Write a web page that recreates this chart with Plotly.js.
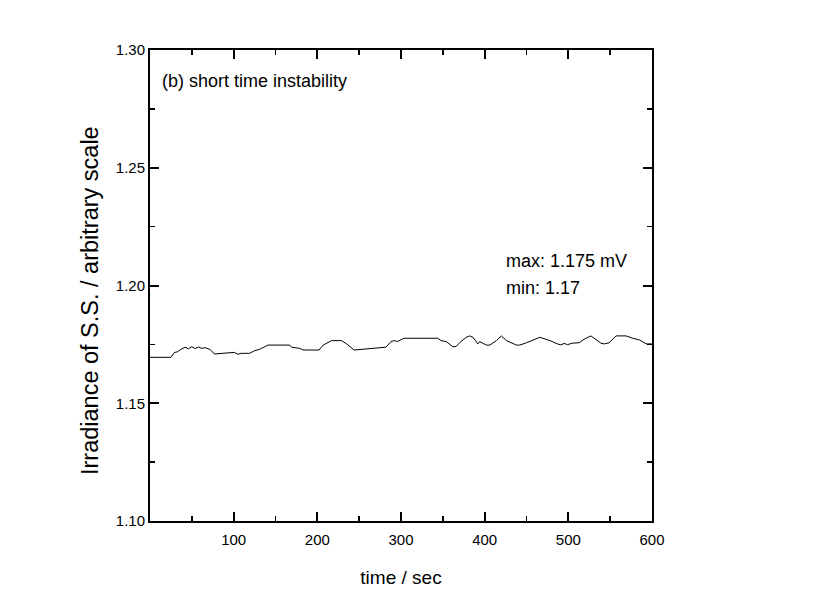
<!DOCTYPE html>
<html>
<head>
<meta charset="utf-8">
<script src="https://cdn.plot.ly/plotly-3.0.1.min.js"></script>
<style>html,body{margin:0;padding:0;background:#fff;}#chart{width:826px;height:592px;}</style>
</head>
<body>
<div id="chart"></div>
<script>
const timeSec = [0, 3, 25, 29, 33, 37, 42, 46, 50, 54, 58, 62, 66, 72, 77, 87, 101, 105, 109, 119, 125, 131, 141, 167, 169, 179, 183, 202, 207, 217, 229, 235, 244, 282, 288, 292, 296, 300, 304, 344, 348, 354, 362, 366, 370, 378, 382, 386, 392, 394, 402, 406, 414, 420, 426, 438, 442, 450, 457, 466, 478, 483, 487, 491, 495, 499, 505, 513, 519, 527, 533, 539, 543, 549, 557, 569, 577, 585, 593, 600];
const irradiance = [1.1695, 1.1695, 1.1695, 1.1715, 1.1719, 1.1729, 1.1738, 1.1731, 1.1740, 1.1732, 1.1739, 1.1733, 1.1736, 1.1728, 1.1709, 1.1712, 1.1716, 1.1708, 1.1712, 1.1712, 1.1723, 1.1729, 1.1747, 1.1747, 1.1738, 1.1733, 1.1726, 1.1726, 1.1747, 1.1766, 1.1766, 1.1752, 1.1726, 1.1738, 1.1762, 1.1766, 1.1762, 1.1770, 1.1776, 1.1776, 1.1766, 1.1762, 1.1740, 1.1741, 1.1757, 1.1780, 1.1786, 1.1780, 1.1752, 1.1762, 1.1747, 1.1747, 1.1766, 1.1786, 1.1766, 1.1747, 1.1747, 1.1757, 1.1766, 1.1780, 1.1766, 1.1757, 1.1752, 1.1748, 1.1754, 1.1749, 1.1755, 1.1757, 1.1772, 1.1786, 1.1772, 1.1755, 1.1752, 1.1757, 1.1786, 1.1786, 1.1776, 1.1769, 1.1752, 1.1752];
const xTicks = [100, 200, 300, 400, 500, 600];
const yTicks = [1.10, 1.15, 1.20, 1.25, 1.30];
const yTickText = ['1.10', '1.15', '1.20', '1.25', '1.30'];
const yTitle = 'Irradiance of S.S. / arbitrary scale';

const font = 'Liberation Sans, Arial, sans-serif';
const trace = {
  x: timeSec, y: irradiance, type: 'scatter', mode: 'lines',
  line: {color: '#000', width: 1}, showlegend: false, hoverinfo: 'skip'
};
const axisCommon = {
  showgrid: false, zeroline: false, showline: true, linecolor: '#000', linewidth: 2,
  mirror: 'ticks', ticks: 'inside', ticklen: 9, tickwidth: 2, tickcolor: '#000',
  tickfont: {family: font, size: 15, color: '#000'}
};
const layout = {
  width: 826, height: 592,
  margin: {l: 150, r: 174, t: 50, b: 71},
  paper_bgcolor: '#fff', plot_bgcolor: '#fff',
  xaxis: Object.assign({}, axisCommon, {
    range: [0, 600], tickmode: 'array', tickvals: xTicks, ticktext: xTicks.map(String),
    minor: {ticks: 'inside', ticklen: 5, tickwidth: 1.5, tickcolor: '#000', dtick: 50, tick0: 0},
    ticklabelstandoff: 4,
    title: {text: 'time / sec', font: {family: font, size: 19, color: '#000'}, standoff: 24}
  }),
  yaxis: Object.assign({}, axisCommon, {
    range: [1.10, 1.30], tickmode: 'array', tickvals: yTicks, ticktext: yTickText,
    minor: {ticks: 'inside', ticklen: 5, tickwidth: 1.5, tickcolor: '#000', dtick: 0.025, tick0: 1.10}
  }),
  annotations: [
    {xref: 'paper', yref: 'paper', x: -0.1195, y: 0.467, xanchor: 'center', yanchor: 'middle',
     textangle: -90, text: yTitle, showarrow: false, font: {family: font, size: 23.5, color: '#000'}},
    {xref: 'paper', yref: 'paper', x: 0.02, y: 0.935, xanchor: 'left', yanchor: 'middle',
     text: '(b) short time instability', showarrow: false, font: {family: font, size: 18, color: '#000'}},
    {xref: 'paper', yref: 'paper', x: 0.705, y: 0.553, xanchor: 'left', yanchor: 'middle',
     text: 'max: 1.175 mV', showarrow: false, font: {family: font, size: 18, color: '#000'}},
    {xref: 'paper', yref: 'paper', x: 0.705, y: 0.495, xanchor: 'left', yanchor: 'middle',
     text: 'min: 1.17', showarrow: false, font: {family: font, size: 18, color: '#000'}}
  ]
};
Plotly.newPlot('chart', [trace], layout, {displayModeBar: false, staticPlot: true});
</script>
</body>
</html>
